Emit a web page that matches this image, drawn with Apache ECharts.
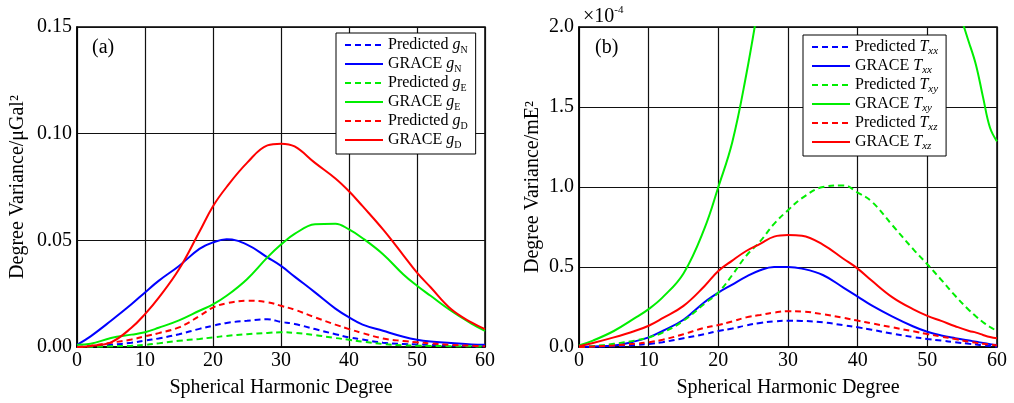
<!DOCTYPE html>
<html>
<head>
<meta charset="utf-8">
<script src="https://cdn.jsdelivr.net/npm/echarts@6/dist/echarts.min.js"></script>
<style>
  html, body { margin: 0; padding: 0; background: #fff; }
  #main { width: 1014px; height: 403px; }
</style>
</head>
<body>
<div id="main"></div>
<script>
// degrees sampled for panel (a) and panel (b)
let degA = [0, 2, 5, 8, 10, 12, 15, 18, 20, 22, 25, 28, 30, 32, 35, 38, 40, 42, 45, 48, 50, 52, 55, 58, 60];
let degB = [0, 2, 5, 8, 10, 12, 15, 18, 20, 22, 24, 26, 28, 30, 32, 35, 38, 40, 42, 45, 48, 50, 52, 54, 56, 57, 58, 59, 60];

// panel (a), uGal^2
let predGN  = [0, 0.0003, 0.001, 0.002, 0.003, 0.004, 0.006, 0.0085, 0.010, 0.0113, 0.0123, 0.013, 0.0118, 0.0108, 0.0084, 0.006, 0.0045, 0.0035, 0.002, 0.0014, 0.0012, 0.001, 0.0007, 0.0004, 0.0003];
let graceGN = [0.001, 0.005, 0.0123, 0.020, 0.0256, 0.031, 0.038, 0.046, 0.049, 0.0505, 0.048, 0.042, 0.038, 0.033, 0.0256, 0.018, 0.0139, 0.0105, 0.0076, 0.0048, 0.0034, 0.0026, 0.0019, 0.0012, 0.001];
let predGE  = [0, 0.0001, 0.0003, 0.0006, 0.001, 0.0017, 0.0029, 0.0038, 0.0045, 0.0052, 0.006, 0.0066, 0.0069, 0.0066, 0.0056, 0.0042, 0.0034, 0.0025, 0.0014, 0.0008, 0.0006, 0.0005, 0.0004, 0.0003, 0.0002];
let graceGE = [0.001, 0.0015, 0.0042, 0.0058, 0.0069, 0.009, 0.0125, 0.017, 0.020, 0.024, 0.0318, 0.042, 0.048, 0.053, 0.0575, 0.0578, 0.0551, 0.051, 0.0435, 0.034, 0.0287, 0.024, 0.017, 0.011, 0.0076];
let predGD  = [0, 0.0005, 0.002, 0.0035, 0.005, 0.0065, 0.0092, 0.0145, 0.0185, 0.0205, 0.0217, 0.021, 0.0193, 0.0175, 0.0139, 0.0105, 0.0084, 0.0065, 0.004, 0.0028, 0.0022, 0.0017, 0.001, 0.0006, 0.0003];
let graceGD = [0, 0.0005, 0.0022, 0.009, 0.0154, 0.023, 0.0364, 0.054, 0.066, 0.075, 0.0863, 0.0945, 0.0953, 0.094, 0.0863, 0.079, 0.073, 0.066, 0.0551, 0.043, 0.0349, 0.028, 0.0178, 0.0115, 0.0084];

// panel (b), x1e-4 mE^2
let predTxx  = [0, 0.002, 0.005, 0.012, 0.019, 0.03, 0.055, 0.08, 0.10, 0.115, 0.135, 0.15, 0.16, 0.164, 0.163, 0.154, 0.136, 0.123, 0.108, 0.083, 0.062, 0.05, 0.04, 0.03, 0.02, 0.016, 0.01, 0.006, 0.002];
let graceTxx = [0, 0.003, 0.01, 0.035, 0.06, 0.10, 0.17, 0.28, 0.34, 0.39, 0.44, 0.48, 0.50, 0.50, 0.49, 0.45, 0.37, 0.315, 0.26, 0.19, 0.128, 0.095, 0.072, 0.055, 0.04, 0.033, 0.025, 0.018, 0.012];
let predTxy  = [0, 0.005, 0.02, 0.04, 0.06, 0.09, 0.164, 0.27, 0.34, 0.45, 0.57, 0.66, 0.77, 0.855, 0.93, 1.0, 1.01, 0.965, 0.91, 0.76, 0.61, 0.517, 0.42, 0.32, 0.23, 0.19, 0.155, 0.125, 0.10];
let graceTxy = [0.01, 0.04, 0.10, 0.18, 0.237, 0.31, 0.46, 0.74, 1.0, 1.28, 1.7, 2.2, 2.7, 3.1, 3.4, 3.6, 3.6, 3.5, 3.3, 3.0, 2.7, 2.5, 2.3, 2.15, 1.9, 1.76, 1.56, 1.37, 1.285];
let predTxz  = [0, 0.003, 0.01, 0.02, 0.03, 0.045, 0.08, 0.12, 0.137, 0.16, 0.185, 0.2, 0.215, 0.224, 0.222, 0.205, 0.182, 0.165, 0.148, 0.123, 0.098, 0.081, 0.065, 0.05, 0.033, 0.026, 0.02, 0.015, 0.01];
let graceTxz = [0.005, 0.025, 0.06, 0.10, 0.133, 0.18, 0.257, 0.38, 0.475, 0.54, 0.60, 0.645, 0.69, 0.70, 0.695, 0.64, 0.55, 0.49, 0.415, 0.31, 0.235, 0.195, 0.163, 0.13, 0.10, 0.09, 0.075, 0.062, 0.054];

let yTicksA = [0, 0.05, 0.10, 0.15];
let yTicksB = [0, 0.5, 1.0, 1.5, 2.0];

const FONT = '"Liberation Serif", "Times New Roman", serif';
let chart = echarts.init(document.getElementById('main'));

let pairs = (xs, ys) => xs.map((x, i) => [x, ys[i]]);

let makeSeries = (name, color, dashed, xs, ys, idx) => ({
  name: name,
  type: 'line',
  xAxisIndex: idx,
  yAxisIndex: idx,
  smooth: 0.4,
  symbol: 'none',
  clip: true,
  data: pairs(xs, ys),
  lineStyle: { color: color, width: 2, type: dashed ? [6, 4] : 'solid' },
  itemStyle: { color: color }
});

let labelA = {
  'Predicted gN': '{n|Predicted }{i|g}{s|N}',
  'GRACE gN': '{n|GRACE }{i|g}{s|N}',
  'Predicted gE': '{n|Predicted }{i|g}{s|E}',
  'GRACE gE': '{n|GRACE }{i|g}{s|E}',
  'Predicted gD': '{n|Predicted }{i|g}{s|D}',
  'GRACE gD': '{n|GRACE }{i|g}{s|D}'
};
let labelB = {
  'Predicted Txx': '{n|Predicted }{i|T}{si|xx}',
  'GRACE Txx': '{n|GRACE }{i|T}{si|xx}',
  'Predicted Txy': '{n|Predicted }{i|T}{si|xy}',
  'GRACE Txy': '{n|GRACE }{i|T}{si|xy}',
  'Predicted Txz': '{n|Predicted }{i|T}{si|xz}',
  'GRACE Txz': '{n|GRACE }{i|T}{si|xz}'
};

let rich = {
  n: { fontFamily: FONT, fontSize: 16, color: '#000', lineHeight: 20 },
  i: { fontFamily: FONT, fontSize: 16, fontStyle: 'italic', color: '#000', lineHeight: 20 },
  s: { fontFamily: FONT, fontSize: 10, color: '#000', verticalAlign: 'bottom', lineHeight: 14 },
  si: { fontFamily: FONT, fontSize: 11, fontStyle: 'italic', color: '#000', verticalAlign: 'bottom', lineHeight: 14 }
};

let legendBase = {
  orient: 'vertical',
  itemWidth: 38,
  itemHeight: 12,
  itemGap: 1,
  backgroundColor: '#fff',
  borderColor: '#000',
  borderWidth: 1,
  padding: [4, 8, 4, 8],
  itemStyle: { opacity: 0 },
  textStyle: { fontFamily: FONT, fontSize: 16, color: '#000', rich: rich }
};

let xAxisBase = {
  type: 'value',
  min: 0,
  max: 60,
  interval: 10,
  name: 'Spherical Harmonic Degree',
  nameLocation: 'middle',
  nameGap: 31,
  nameTextStyle: { fontFamily: FONT, fontSize: 20, color: '#000' },
  axisLine: { lineStyle: { color: '#000', width: 1.5 } },
  axisTick: { show: false },
  axisLabel: { fontFamily: FONT, fontSize: 20, color: '#000', margin: 4 },
  splitLine: { show: true, lineStyle: { color: '#111', width: 1.2 } }
};

let yAxisCommon = {
  type: 'value',
  min: 0,
  nameLocation: 'middle',
  nameTextStyle: { fontFamily: FONT, fontSize: 20, color: '#000' },
  axisLine: { show: true, lineStyle: { color: '#000', width: 1.5 } },
  axisTick: { show: false },
  splitLine: { show: true, lineStyle: { color: '#111', width: 1.2 } }
};

let option = {
  animation: false,
  backgroundColor: '#fff',
  title: [
    { text: '(a)', left: 87, top: 33, textStyle: { fontFamily: FONT, fontSize: 20, fontWeight: 'normal', color: '#000' } },
    { text: '(b)', left: 590, top: 33, textStyle: { fontFamily: FONT, fontSize: 20, fontWeight: 'normal', color: '#000' } },
    {
      text: '{a|×10}{b|-4}', left: 578, top: 0,
      textStyle: { fontWeight: 'normal', rich: {
        a: { fontFamily: FONT, fontSize: 20, fontWeight: 'normal', color: '#000', lineHeight: 24 },
        b: { fontFamily: FONT, fontSize: 11, fontWeight: 'normal', color: '#000', verticalAlign: 'top', lineHeight: 24 }
      } }
    }
  ],
  grid: [
    { left: 77, top: 27, width: 408, height: 321, show: true, borderColor: '#000', borderWidth: 1.5 },
    { left: 579, top: 27, width: 418, height: 321, show: true, borderColor: '#000', borderWidth: 1.5 }
  ],
  legend: [
    Object.assign({}, legendBase, {
      left: 336, top: 33,
      data: Object.keys(labelA),
      formatter: (name) => labelA[name]
    }),
    Object.assign({}, legendBase, {
      left: 803, top: 35,
      data: Object.keys(labelB),
      formatter: (name) => labelB[name]
    })
  ],
  xAxis: [
    Object.assign({}, xAxisBase, { gridIndex: 0 }),
    Object.assign({}, xAxisBase, { gridIndex: 1 })
  ],
  yAxis: [
    Object.assign({}, yAxisCommon, {
      gridIndex: 0,
      max: yTicksA[yTicksA.length - 1],
      interval: 0.05,
      name: 'Degree Variance/μGal²',
      nameGap: 49,
      axisLabel: { fontFamily: FONT, fontSize: 20, color: '#000', margin: 5, formatter: (v) => v.toFixed(2) }
    }),
    Object.assign({}, yAxisCommon, {
      gridIndex: 1,
      max: yTicksB[yTicksB.length - 1],
      interval: 0.5,
      name: 'Degree Variance/mE²',
      nameGap: 36,
      axisLabel: { fontFamily: FONT, fontSize: 20, color: '#000', margin: 5, formatter: (v) => v.toFixed(1) }
    })
  ],
  series: [
    makeSeries('Predicted gN', '#0000ff', true, degA, predGN, 0),
    makeSeries('GRACE gN', '#0000ff', false, degA, graceGN, 0),
    makeSeries('Predicted gE', '#00ee00', true, degA, predGE, 0),
    makeSeries('GRACE gE', '#00ee00', false, degA, graceGE, 0),
    makeSeries('Predicted gD', '#ff0000', true, degA, predGD, 0),
    makeSeries('GRACE gD', '#ff0000', false, degA, graceGD, 0),
    makeSeries('Predicted Txx', '#0000ff', true, degB, predTxx, 1),
    makeSeries('GRACE Txx', '#0000ff', false, degB, graceTxx, 1),
    makeSeries('Predicted Txy', '#00ee00', true, degB, predTxy, 1),
    makeSeries('GRACE Txy', '#00ee00', false, degB, graceTxy, 1),
    makeSeries('Predicted Txz', '#ff0000', true, degB, predTxz, 1),
    makeSeries('GRACE Txz', '#ff0000', false, degB, graceTxz, 1)
  ]
};

chart.setOption(option);
</script>
</body>
</html>
